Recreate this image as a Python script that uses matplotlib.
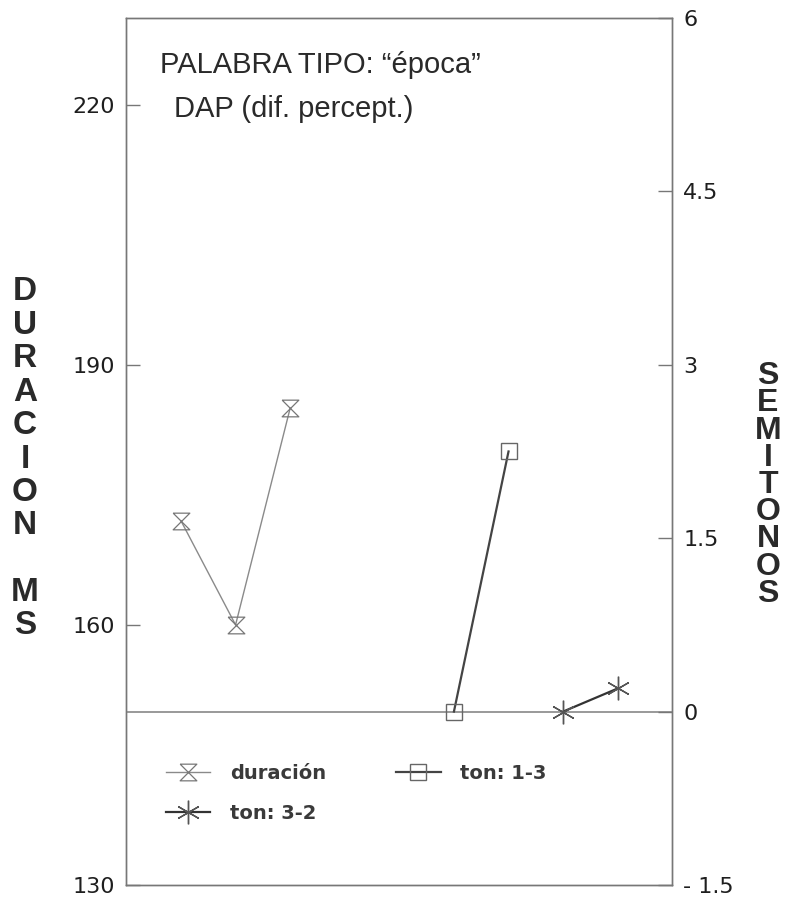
import matplotlib
matplotlib.use("Agg")
import matplotlib.pyplot as plt
from matplotlib.path import Path

plt.rcParams['font.family'] = ['Liberation Sans', 'DejaVu Sans']

# data
dur_x = [1, 2, 3]
dur_ms = [172, 160, 185]
ton13_x = [6, 7]
ton13_st = [0, 2.25]
ton32_x = [8, 9]
ton32_st = [0, 0.2]

left_ticks = [130, 160, 190, 220]
right_ticks = [-1.5, 0, 1.5, 3, 4.5, 6]
right_labels = ["- 1.5", "0", "1.5", "3", "4.5", "6"]

hourglass = Path([(-1, 1), (1, 1), (-1, -1), (1, -1), (-1, 1)],
                 [Path.MOVETO, Path.LINETO, Path.LINETO, Path.LINETO, Path.LINETO])

fig = plt.figure(figsize=(7.9, 8.99), dpi=100)
ax = fig.add_axes([0.160, 0.0156, 0.691, 0.9644])
ax2 = ax.twinx()

axis_col = "#777777"
text_col = "#2a2a2a"

ax.set_xlim(0, 10)
ax.set_ylim(130, 230)
ax2.set_ylim(-1.5, 6)
ax.set_xticks([])

ax.set_yticks(left_ticks)
ax.set_yticklabels([str(t) for t in left_ticks])
ax2.set_yticks(right_ticks)
ax2.set_yticklabels(right_labels)

for a in (ax, ax2):
    a.tick_params(axis='y', direction='in', length=10, width=1, colors=axis_col,
                  labelcolor="#1e1e1e", labelsize=16, pad=8)
    for lab in a.get_yticklabels():
        lab.set_family('DejaVu Sans')
    for s in a.spines.values():
        s.set_color(axis_col)
        s.set_linewidth(1)

ax2.axhline(0, color="#888888", lw=1.2, zorder=1)

l1, = ax.plot(dur_x, dur_ms, color="#8a8a8a", lw=1, marker=hourglass,
              markersize=12, markerfacecolor='none', markeredgecolor="#777777",
              markeredgewidth=0.9, label="duración")
l2, = ax2.plot(ton13_x, ton13_st, color="#444444", lw=1.6, marker='s',
               markersize=12, markerfacecolor='none', markeredgecolor="#666666",
               markeredgewidth=1, label="ton: 1-3")
l3, = ax2.plot(ton32_x, ton32_st, color="#333333", lw=1.6, marker=(6, 2, 0),
               markersize=17, markeredgecolor="#555555", markeredgewidth=1,
               label="ton: 3-2")

leg = ax2.legend(handles=[l1, l3, l2], ncol=2, loc='upper left',
                 bbox_to_anchor=(0.04, 0.16), frameon=False,
                 prop={'family': 'DejaVu Sans', 'weight': 'bold', 'size': 14},
                 handlelength=2.3, handletextpad=1.0, columnspacing=3.6,
                 labelspacing=1.1)
for t in leg.get_texts():
    t.set_color("#3a3a3a")

ax.text(0.062, 0.946, "PALABRA TIPO: \u201cépoca\u201d", transform=ax.transAxes,
        fontsize=21, color=text_col, va='center', ha='left')
ax.text(0.088, 0.895, "DAP (dif. percept.)", transform=ax.transAxes,
        fontsize=21, color=text_col, va='center', ha='left')

fig.text(25 / 790, 1 - 459 / 899, "D\nU\nR\nA\nC\nI\nO\nN\n\nM\nS", ha='center',
         va='center', fontsize=24, color=text_col, linespacing=1.1,
         fontweight='bold')
fig.text(768 / 790, 1 - 485 / 899, "S\nE\nM\nI\nT\nO\nN\nO\nS", ha='center',
         va='center', fontsize=23, color=text_col, linespacing=0.88,
         fontweight='bold')

fig.savefig("out.png", dpi=100)
